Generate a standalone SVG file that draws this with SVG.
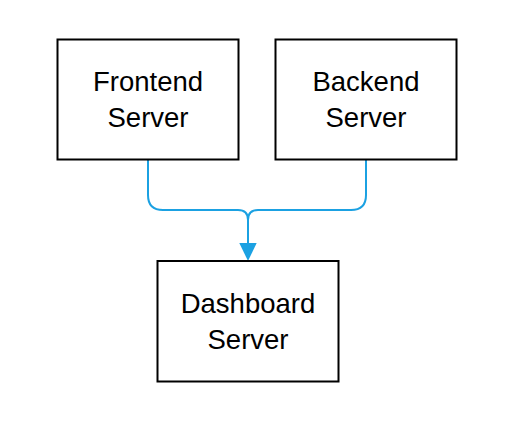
<svg xmlns="http://www.w3.org/2000/svg" width="506" height="434" viewBox="0 0 506 434">
<style>
.box{fill:#ffffff;stroke:#000000;stroke-width:2}
.lbl{font-family:"Liberation Sans",Arial,Helvetica,sans-serif;font-size:27.5px;fill:#000000;text-anchor:middle}
.edge{fill:none;stroke:#1ba1e2;stroke-width:2}
.head{fill:#1ba1e2;stroke:none}
</style>
<rect width="506" height="434" fill="#ffffff"/>
<g id="connectors">
<path class="edge" d="M148,160 V195 Q148,210 163,210 H238 Q248,210 248,220 V243"/>
<path class="edge" d="M366,160 V195 Q366,210 351,210 H258 Q248,210 248,220 V243"/>
<path class="head" d="M239.3,243 L256.7,243 L248,261 Z"/>
</g>
<g id="frontend">
<rect class="box" x="57.5" y="39.5" width="181" height="120"/>
<text class="lbl" x="148" y="91">Frontend</text>
<text class="lbl" x="148" y="127">Server</text>
</g>
<g id="backend">
<rect class="box" x="275.5" y="39.5" width="181" height="120"/>
<text class="lbl" x="366" y="91">Backend</text>
<text class="lbl" x="366" y="127">Server</text>
</g>
<g id="dashboard">
<rect class="box" x="157.5" y="261" width="181" height="120.5"/>
<text class="lbl" x="248" y="313">Dashboard</text>
<text class="lbl" x="248" y="349">Server</text>
</g>
</svg>
